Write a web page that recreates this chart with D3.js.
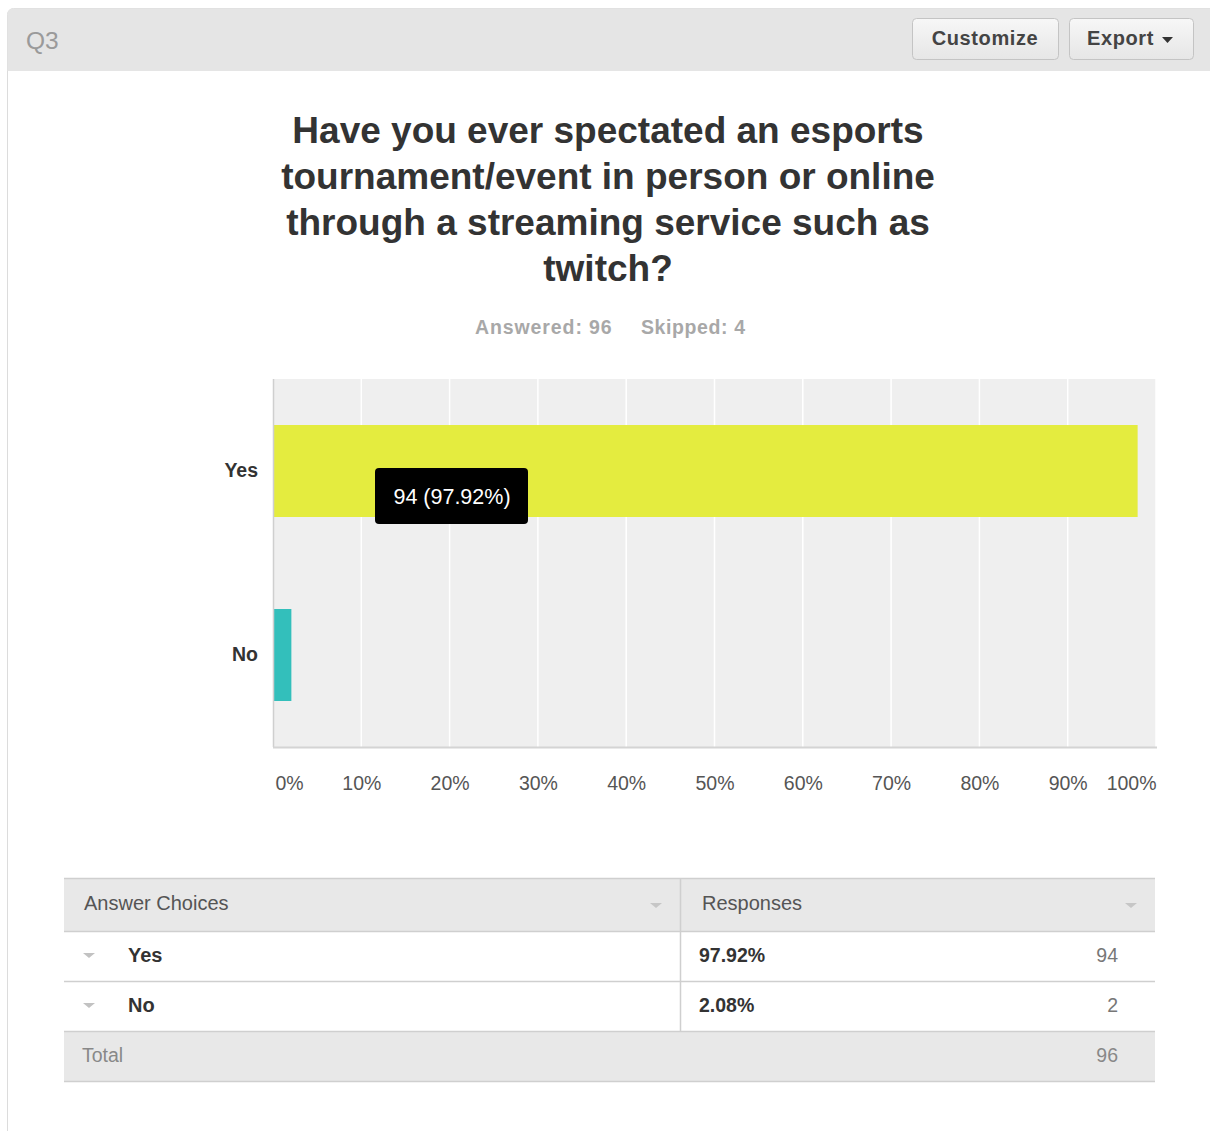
<!DOCTYPE html>
<html>
<head>
<meta charset="utf-8">
<script src="https://cdn.jsdelivr.net/npm/d3@7"></script>
<style>
  html, body { margin: 0; padding: 0; background: #fff; }
  svg { display: block; font-family: "Liberation Sans", Arial, sans-serif; }
</style>
</head>
<body>
<svg id="chart" width="1210" height="1131"></svg>
<script>
// Survey question Q3: response breakdown
const questionId = "Q3";
const titleLines = [
  "Have you ever spectated an esports",
  "tournament/event in person or online",
  "through a streaming service such as",
  "twitch?"
];
const answered = 96;
const skipped = 4;
const categories = ["Yes", "No"];
const counts = [94, 2];
const percents = [97.92, 2.08];
const barColors = ["#e4ec3f", "#33bfbb"];
const tickValues = [0, 10, 20, 30, 40, 50, 60, 70, 80, 90, 100];
const tooltipIndex = 0;

const svg = d3.select("#chart");

// ---- panel frame and header ----
const panel = { x: 7, y: 8, w: 1230, h: 1160 };
svg.append("rect")
  .attr("x", panel.x + 0.5).attr("y", panel.y + 0.5)
  .attr("width", panel.w).attr("height", panel.h)
  .attr("rx", 6).attr("fill", "#fff").attr("stroke", "#dcdcdc");
svg.append("path")
  .attr("d", `M${panel.x + 0.5},71 V${panel.y + 6.5} Q${panel.x + 0.5},${panel.y + 0.5} ${panel.x + 6.5},${panel.y + 0.5} H1210 V71 Z`)
  .attr("fill", "#e5e5e5");
svg.append("text")
  .attr("x", 26).attr("y", 49)
  .attr("font-size", 24.5).attr("fill", "#9a9a9a")
  .text(questionId);

const defs = svg.append("defs");
const grad = defs.append("linearGradient").attr("id", "btnGrad")
  .attr("x1", 0).attr("y1", 0).attr("x2", 0).attr("y2", 1);
grad.append("stop").attr("offset", "0%").attr("stop-color", "#f7f7f7");
grad.append("stop").attr("offset", "100%").attr("stop-color", "#e6e6e6");

const buttons = [
  { label: "Customize", x: 912, w: 146, caret: false },
  { label: "Export", x: 1069, w: 124, caret: true }
];
buttons.forEach(b => {
  const g = svg.append("g");
  g.append("rect")
    .attr("x", b.x + 0.5).attr("y", 18.5).attr("width", b.w).attr("height", 41)
    .attr("rx", 4).attr("fill", "url(#btnGrad)").attr("stroke", "#c4c4c4");
  const tx = b.caret ? b.x + 18 : b.x + b.w / 2;
  g.append("text")
    .attr("x", tx).attr("y", 45)
    .attr("text-anchor", b.caret ? "start" : "middle")
    .attr("font-size", 20).attr("font-weight", "bold")
    .attr("letter-spacing", 0.6).attr("fill", "#444")
    .text(b.label);
  if (b.caret) {
    g.append("path")
      .attr("d", `M${b.x + 93},37 h11 l-5.5,6 z`)
      .attr("fill", "#333");
  }
});

// ---- title ----
const title = svg.append("text")
  .attr("text-anchor", "middle")
  .attr("font-size", 37).attr("font-weight", "bold").attr("fill", "#333");
titleLines.forEach((line, i) => {
  title.append("tspan").attr("x", 608).attr("y", 143 + i * 46).text(line);
});

const stats = svg.append("g").attr("font-size", 19.5).attr("font-weight", "bold")
  .attr("fill", "#a8a8a8").attr("letter-spacing", 0.9);
stats.append("text").attr("x", 475).attr("y", 334).text(`Answered: ${answered}`);
stats.append("text").attr("x", 641).attr("y", 334).attr("letter-spacing", 0.6).text(`Skipped: ${skipped}`);

// ---- bar chart ----
const plot = { left: 273, right: 1156, top: 379, bottom: 747 };
const x = d3.scaleLinear().domain([0, 100]).range([plot.left, plot.right]);
const y = d3.scaleBand().domain(categories).range([plot.top, plot.bottom])
  .paddingInner(0.5).paddingOuter(0.25);

const chart = svg.append("g");
chart.append("rect")
  .attr("x", plot.left).attr("y", plot.top)
  .attr("width", plot.right - plot.left).attr("height", plot.bottom - plot.top)
  .attr("fill", "#efefef");

// vertical gridlines
chart.selectAll("line.grid")
  .data(tickValues.slice(1))
  .join("line")
  .attr("class", "grid")
  .attr("x1", d => x(d)).attr("x2", d => x(d))
  .attr("y1", plot.top).attr("y2", plot.bottom)
  .attr("stroke", "#ffffff").attr("stroke-width", 1.5);

// bars
chart.selectAll("rect.bar")
  .data(categories)
  .join("rect")
  .attr("class", "bar")
  .attr("x", x(0))
  .attr("y", d => y(d))
  .attr("width", (d, i) => x(percents[i]) - x(0))
  .attr("height", y.bandwidth())
  .attr("fill", (d, i) => barColors[i]);

// axis lines
chart.append("line")
  .attr("x1", plot.left + 0.5).attr("x2", plot.left + 0.5)
  .attr("y1", plot.top).attr("y2", plot.bottom)
  .attr("stroke", "#cfcfcf").attr("stroke-width", 1.5);
chart.append("line")
  .attr("x1", plot.left).attr("x2", plot.right + 1)
  .attr("y1", plot.bottom + 0.5).attr("y2", plot.bottom + 0.5)
  .attr("stroke", "#d4d4d4").attr("stroke-width", 2);

// x axis
const xAxis = d3.axisBottom(x)
  .tickValues(tickValues)
  .tickFormat(d => d + "%")
  .tickSize(0)
  .tickPadding(0);
const xg = chart.append("g")
  .attr("transform", `translate(0,${plot.bottom + 43})`)
  .call(xAxis);
xg.select(".domain").remove();
xg.selectAll("text")
  .attr("font-size", 19.5).attr("fill", "#555").attr("dy", 0)
  .attr("font-family", "'Liberation Sans', Arial, sans-serif")
  .attr("text-anchor", d => d === 0 ? "start" : d === 100 ? "end" : "middle")
  .attr("dx", d => d === 0 ? 2 : 0);

// y axis
const yAxis = d3.axisLeft(y).tickSize(0).tickPadding(15);
const yg = chart.append("g")
  .attr("transform", `translate(${plot.left},0)`)
  .call(yAxis);
yg.select(".domain").remove();
yg.selectAll("text")
  .attr("font-size", 19.5).attr("font-weight", "bold").attr("fill", "#333")
  .attr("font-family", "'Liberation Sans', Arial, sans-serif");

// tooltip for the highlighted bar
const tipLabel = `${counts[tooltipIndex]} (${percents[tooltipIndex].toFixed(2)}%)`;
const tipCx = 452;
const tipCy = y(categories[tooltipIndex]) + y.bandwidth() / 2 + 25;
const tip = chart.append("g");
tip.append("rect")
  .attr("x", tipCx - 77).attr("y", tipCy - 28)
  .attr("width", 153).attr("height", 56)
  .attr("rx", 4).attr("fill", "#000");
tip.append("text")
  .attr("x", tipCx).attr("y", tipCy + 7.5)
  .attr("text-anchor", "middle")
  .attr("font-size", 21.5).attr("fill", "#fff")
  .text(tipLabel);

// ---- summary table ----
const table = { left: 64, right: 1155, divider: 680, top: 878 };
const headH = 53, rowH = 50;
const total = d3.sum(counts);
const tg = svg.append("g");

// header
tg.append("rect")
  .attr("x", table.left).attr("y", table.top)
  .attr("width", table.right - table.left).attr("height", headH)
  .attr("fill", "#e8e8e8");
const rowsTop = table.top + headH;
const totalTop = rowsTop + rowH * categories.length;
tg.append("rect")
  .attr("x", table.left).attr("y", totalTop)
  .attr("width", table.right - table.left).attr("height", rowH)
  .attr("fill", "#e8e8e8");

// horizontal rules
const rules = [table.top, rowsTop, ...categories.map((c, i) => rowsTop + rowH * (i + 1)), totalTop + rowH];
tg.selectAll("line.rule")
  .data(rules)
  .join("line")
  .attr("class", "rule")
  .attr("x1", table.left).attr("x2", table.right)
  .attr("y1", d => d + 0.5).attr("y2", d => d + 0.5)
  .attr("stroke", "#cfcfcf").attr("stroke-width", 1.5);
tg.append("line")
  .attr("x1", table.divider + 0.5).attr("x2", table.divider + 0.5)
  .attr("y1", table.top).attr("y2", totalTop)
  .attr("stroke", "#cfcfcf").attr("stroke-width", 1.5);

const caret = (cx, cy, color) => tg.append("path")
  .attr("d", `M${cx - 6},${cy - 3} h12 l-6,5 z`).attr("fill", color);

tg.append("text").attr("x", 84).attr("y", table.top + 32)
  .attr("font-size", 20).attr("fill", "#555").text("Answer Choices");
tg.append("text").attr("x", 702).attr("y", table.top + 32)
  .attr("font-size", 20).attr("fill", "#555").text("Responses");
caret(656, table.top + 28, "#c6c6c6");
caret(1131, table.top + 28, "#c6c6c6");

categories.forEach((c, i) => {
  const top = rowsTop + rowH * i;
  caret(89, top + 25, "#c2c2c2");
  tg.append("text").attr("x", 128).attr("y", top + 31)
    .attr("font-size", 20).attr("font-weight", "bold").attr("fill", "#333").text(c);
  tg.append("text").attr("x", 699).attr("y", top + 31)
    .attr("font-size", 19.5).attr("font-weight", "bold").attr("fill", "#333")
    .text(percents[i].toFixed(2) + "%");
  tg.append("text").attr("x", 1118).attr("y", top + 31).attr("text-anchor", "end")
    .attr("font-size", 19.5).attr("fill", "#777").text(counts[i]);
});
tg.append("text").attr("x", 82).attr("y", totalTop + 31)
  .attr("font-size", 19.5).attr("fill", "#888").text("Total");
tg.append("text").attr("x", 1118).attr("y", totalTop + 31).attr("text-anchor", "end")
  .attr("font-size", 19.5).attr("fill", "#888").text(total);
</script>
</body>
</html>
